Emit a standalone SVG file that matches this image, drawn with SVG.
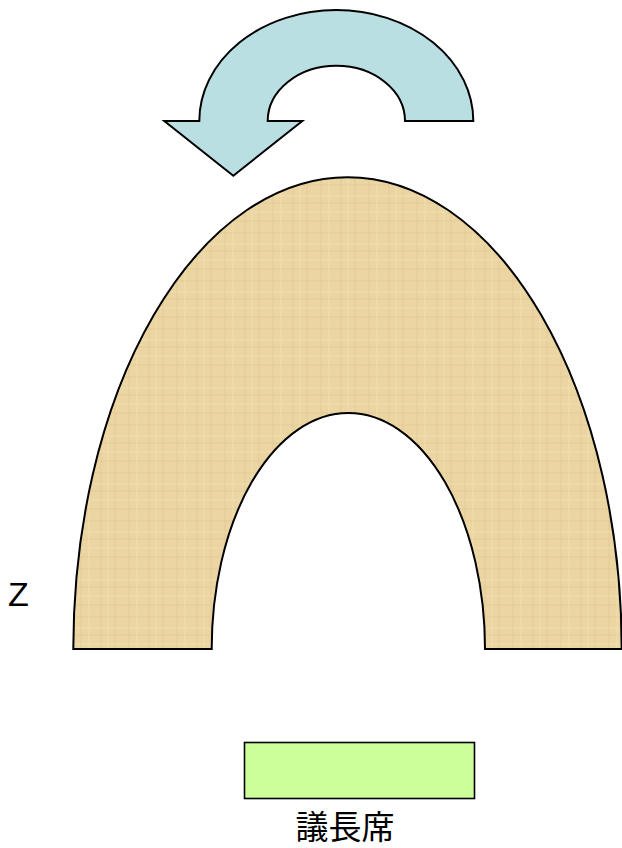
<svg xmlns="http://www.w3.org/2000/svg" width="622" height="848" viewBox="0 0 622 848">
  <style>
    .outline { stroke: #000; stroke-width: 2; stroke-linejoin: miter; }
    .arrow { fill: #BADFE2; }
    .arch { fill: url(#parchment); }
    .seat { fill: #CCFF99; stroke: #000; stroke-width: 1.6; }
    .lbl { font-family: "Noto Sans CJK JP", "Noto Sans CJK SC", sans-serif; font-size: 33px; fill: #000; }
    .z { font-family: "Liberation Sans", Arial, sans-serif; font-size: 34px; fill: #000; }
  </style>
  <defs>
    <pattern id="parchment" patternUnits="userSpaceOnUse" width="48" height="48">
      <rect width="48" height="48" fill="#EBD5A2"/>
      <g stroke="#D9BE82" stroke-width="1" opacity="0.45">
        <line x1="5" y1="0" x2="5" y2="48"/>
        <line x1="19" y1="0" x2="19" y2="48"/>
        <line x1="33" y1="0" x2="33" y2="48"/>
        <line x1="0" y1="11" x2="48" y2="11"/>
        <line x1="0" y1="29" x2="48" y2="29"/>
        <line x1="0" y1="41" x2="48" y2="41"/>
      </g>
      <g stroke="#F6E6C0" stroke-width="1" opacity="0.5">
        <line x1="12" y1="0" x2="12" y2="48"/>
        <line x1="41" y1="0" x2="41" y2="48"/>
        <line x1="0" y1="20" x2="48" y2="20"/>
        <line x1="0" y1="4" x2="48" y2="4"/>
      </g>
    </pattern>
  </defs>

  <g id="rotation-arrow">
    <path class="arrow outline" d="M 473.3,121 A 137,111 0 0 0 199.3,121 L 164.3,121 L 233.3,175.7 L 302.3,121 L 267.7,121 A 68.65,55.3 0 0 1 405,121 Z"/>
  </g>

  <g id="assembly-seats">
    <path class="arch outline" d="M 73.3,649 A 274.2,472 0 0 1 621.7,649 L 485,649 A 136.65,236 0 0 0 211.7,649 Z"/>
  </g>

  <g id="z-label">
    <text class="z" x="8" y="606">Z</text>
  </g>

  <g id="chair-seat">
    <rect class="seat" x="244.5" y="742.5" width="230" height="56"/>
    <text class="lbl" x="345" y="839" text-anchor="middle">議長席</text>
  </g>

  <g id="connectors"></g>
</svg>
